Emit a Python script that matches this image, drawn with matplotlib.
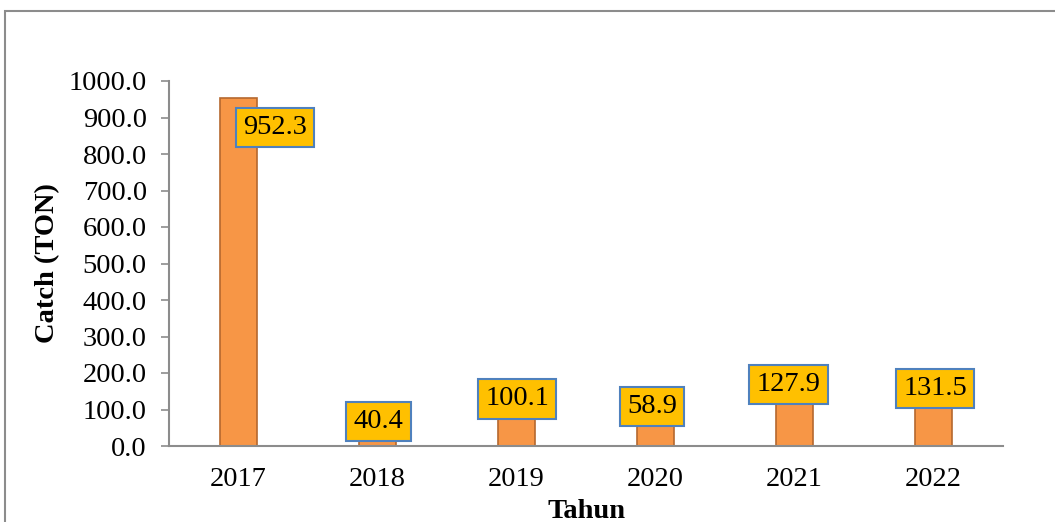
import matplotlib
matplotlib.use("Agg")
import matplotlib.pyplot as plt
from matplotlib.patches import Rectangle

# Catch data per year
years = ["2017", "2018", "2019", "2020", "2021", "2022"]
catch_ton = [952.3, 40.4, 100.1, 58.9, 127.9, 131.5]
y_ticks = [0, 100, 200, 300, 400, 500, 600, 700, 800, 900, 1000]

# label box offsets from each bar top, in pixels (dx, dy)
label_offsets = [(36.5, -29), (1, 10), (0.5, 10.5), (-3.5, 18), (-6, 15), (1.5, 9.6)]

plt.rcParams["font.family"] = ["Liberation Serif", "DejaVu Serif"]
FS = 20.5

W, H, DPI = 1055, 522, 100
fig = plt.figure(figsize=(W / DPI, H / DPI), dpi=DPI)
fig.patch.set_facecolor("white")

# outer chart-area frame
fig.patches.append(Rectangle((5 / W, -0.1), 1.2, (H - 11) / H + 0.1,
                             transform=fig.transFigure, fill=False,
                             edgecolor="#8c8c8c", linewidth=1.5, zorder=0))

left, right = 169 / W, 1003 / W
bottom, top = 1 - 446 / H, 1 - 81 / H
ax = fig.add_axes([left, bottom, right - left, top - bottom])

x = list(range(len(years)))
ax.bar(x, catch_ton, width=0.265, color="#F79646", edgecolor="#B5682F",
       linewidth=1.2, zorder=2)

ax.set_xlim(-0.5, len(years) - 0.5)
ax.set_ylim(0, 1000)
ax.set_yticks(y_ticks)
ax.set_yticklabels([f"{v:.1f}" for v in y_ticks], fontsize=FS)
ax.set_xticks(x)
ax.set_xticklabels(years, fontsize=FS)
ax.tick_params(axis="y", direction="out", length=6, width=1.2, color="#8c8c8c", pad=10)
ax.tick_params(axis="x", length=0, pad=15)

for side in ["top", "right"]:
    ax.spines[side].set_visible(False)
for side in ["left", "bottom"]:
    ax.spines[side].set_color("#8c8c8c")
    ax.spines[side].set_linewidth(1.5)

ax.set_ylabel("Catch (TON)", fontsize=FS, fontweight="bold", labelpad=6)
ax.set_xlabel("Tahun", fontsize=FS, fontweight="bold", labelpad=5)

px = 72 / DPI
for xi, val, (dx, dy) in zip(x, catch_ton, label_offsets):
    ax.annotate(f"{val:.1f}", xy=(xi, val), xytext=(dx * px, dy * px),
                textcoords="offset points", ha="center", va="center",
                fontsize=FS, zorder=5,
                bbox=dict(boxstyle="square,pad=0.25", facecolor="#FFC000",
                          edgecolor="#4F81BD", linewidth=1.5))

fig.savefig("out.png", dpi=DPI)
